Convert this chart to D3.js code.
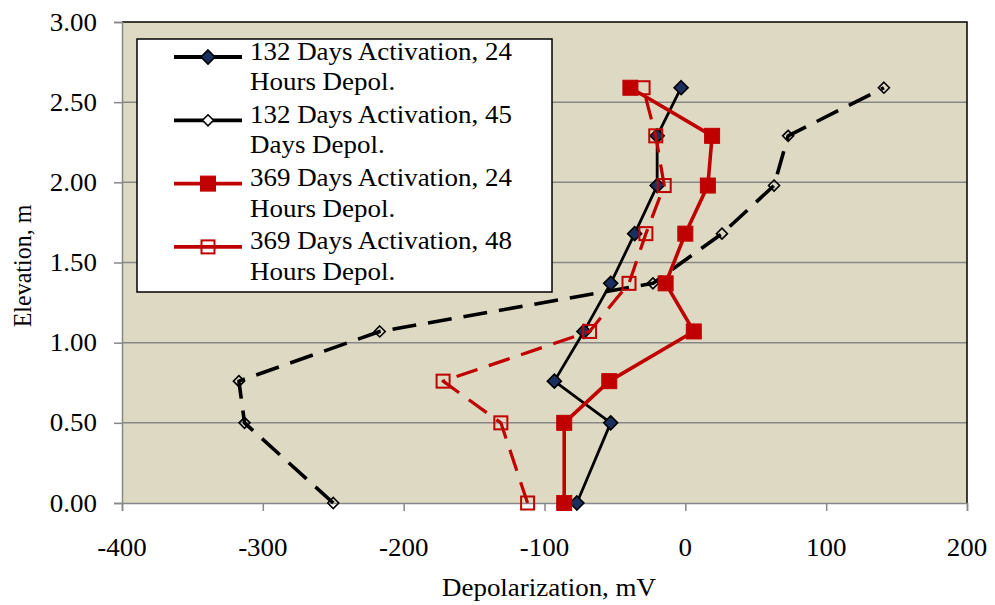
<!DOCTYPE html>
<html><head><meta charset="utf-8">
<script src="https://cdn.jsdelivr.net/npm/d3@7"></script>
<style>body{margin:0;background:#fff}svg{display:block}text{font-family:"Liberation Serif","Times New Roman",serif;fill:#000}</style>
</head><body><svg id="c" width="995" height="605"></svg>
<script>
const elevations = [0, 0.5, 0.76, 1.07, 1.37, 1.68, 1.98, 2.29, 2.59];
const s132_24h = [-77, -53, -93, -72, -53, -36, -20, -20, -3];
const s132_45d = [-250, -313, -317, -217, -23, 26, 63, 73, 141];
const s369_24h = [-86, -86, -54, 6, -14, 0, 16, 19, -39];
const s369_48h = [-112, -131, -172, -68, -40, -28, -15, -21, -30];
const seriesNames = ["132 Days Activation, 24 Hours Depol.", "132 Days Activation, 45 Days Depol.", "369 Days Activation, 24 Hours Depol.", "369 Days Activation, 48 Hours Depol."];
const legendLines = [["132 Days Activation, 24","Hours Depol."],["132 Days Activation, 45","Days Depol."],["369 Days Activation, 24","Hours Depol."],["369 Days Activation, 48","Hours Depol."]];
const xTicks = [-400, -300, -200, -100, 0, 100, 200];
const yTicks = [0, 0.5, 1, 1.5, 2, 2.5, 3];
const xTitle = "Depolarization, mV";
const yTitle = "Elevation, m";

const styles = [
  {color:"#000", width:2.8, dash:null, marker:"diamond", fill:"#1b2f5e", stroke:"#000", size:14},
  {color:"#000", width:3.6, dash:"24,12", marker:"diamond", fill:"none", stroke:"#000", size:11},
  {color:"#c00000", width:3.6, dash:null, marker:"square", fill:"#c00000", stroke:"#c00000", size:15},
  {color:"#c00000", width:3.2, dash:"22,12", marker:"square", fill:"none", stroke:"#c00000", size:13}
];
const data = [s132_24h, s132_45d, s369_24h, s369_48h];

const FS = 24.5, SX = 1.1;
const svg = d3.select("#c");
const L=122, R=967, T=22, B=503;
const x = d3.scaleLinear().domain([-400,200]).range([L,R]);
const y = d3.scaleLinear().domain([0,3]).range([B,T]);

function label(parent, tx, ty, str, anchor, baseline, size){
  return parent.append("text").attr("transform",`translate(${tx},${ty}) scale(${SX},1)`)
    .attr("text-anchor",anchor||"start").attr("dominant-baseline",baseline||"alphabetic")
    .attr("font-size",size||FS).text(str);
}

svg.append("rect").attr("x",L).attr("y",T).attr("width",R-L).attr("height",B-T).attr("fill","#ddd9c3");
svg.append("g").selectAll("line").data(yTicks.filter(d=>d>0&&d<3)).join("line")
  .attr("x1",L).attr("x2",R).attr("y1",d=>y(d)).attr("y2",d=>y(d)).attr("stroke","#878787").attr("stroke-width",1.5);
svg.append("path").attr("d",`M${L},${T}H${R}V${B}`).attr("fill","none").attr("stroke","#000").attr("stroke-width",1.5);

const xAxis = svg.append("g").attr("transform",`translate(0,${B})`)
  .call(d3.axisBottom(x).tickValues(xTicks).tickSize(8).tickFormat(""));
const yAxis = svg.append("g").attr("transform",`translate(${L},0)`)
  .call(d3.axisLeft(y).tickValues(yTicks).tickSize(8).tickFormat(""));
[xAxis,yAxis].forEach(a=>{
  a.select(".domain").attr("stroke","#878787").attr("stroke-width",1.5);
  a.selectAll(".tick line").attr("stroke","#878787").attr("stroke-width",1.5);
  a.selectAll(".tick text").remove();
});
const fx = d=> d<0 ? "-"+Math.abs(d) : String(d);
xTicks.forEach(d=>label(svg, x(d), 556, fx(d), "middle"));
yTicks.forEach(d=>label(svg, 97, y(d)+8.5, d3.format(".2f")(d), "end"));

label(svg, 549, 596, xTitle, "middle");
svg.append("text").attr("transform",`translate(31,${266}) rotate(-90) scale(1,1.06)`).attr("text-anchor","middle").attr("font-size",24).text(yTitle);

function marker(g, st, cx, cy){
  const h=st.size/2;
  if(st.marker==="diamond"){
    g.append("path").attr("d",`M${cx},${cy-h}L${cx+h},${cy}L${cx},${cy+h}L${cx-h},${cy}Z`)
      .attr("fill",st.fill).attr("stroke",st.stroke).attr("stroke-width",1.6);
  } else {
    g.append("rect").attr("x",cx-h).attr("y",cy-h).attr("width",st.size).attr("height",st.size)
      .attr("fill",st.fill).attr("stroke",st.stroke).attr("stroke-width",st.fill==="none"?2:1);
  }
}

const line = d3.line().x(d=>x(d[0])).y(d=>y(d[1]));
data.forEach((vals,i)=>{
  const st=styles[i];
  const pts = vals.map((v,j)=>[v,elevations[j]]);
  const g=svg.append("g");
  g.append("path").attr("d",line(pts)).attr("fill","none").attr("stroke",st.color)
    .attr("stroke-width",st.width).attr("stroke-dasharray",st.dash).attr("stroke-linejoin","round");
  pts.forEach(p=>marker(g,st,x(p[0]),y(p[1])));
});

const lg = svg.append("g");
lg.append("rect").attr("x",137).attr("y",39).attr("width",415).attr("height",253).attr("fill","#fff").attr("stroke","#000").attr("stroke-width",1.5);
legendLines.forEach((lines,i)=>{
  const st=Object.assign({},styles[i]);
  if(st.fill==="none" && st.marker==="diamond") st.fill="#fff";
  const cy=57+i*63.3;
  lg.append("line").attr("x1",174).attr("x2",242).attr("y1",cy).attr("y2",cy).attr("stroke",st.color).attr("stroke-width",3.8);
  marker(lg,st,208,cy);
  lines.forEach((t,k)=>label(lg, 250, cy+2.5+k*30.5, t, "start"));
});
</script></body></html>
